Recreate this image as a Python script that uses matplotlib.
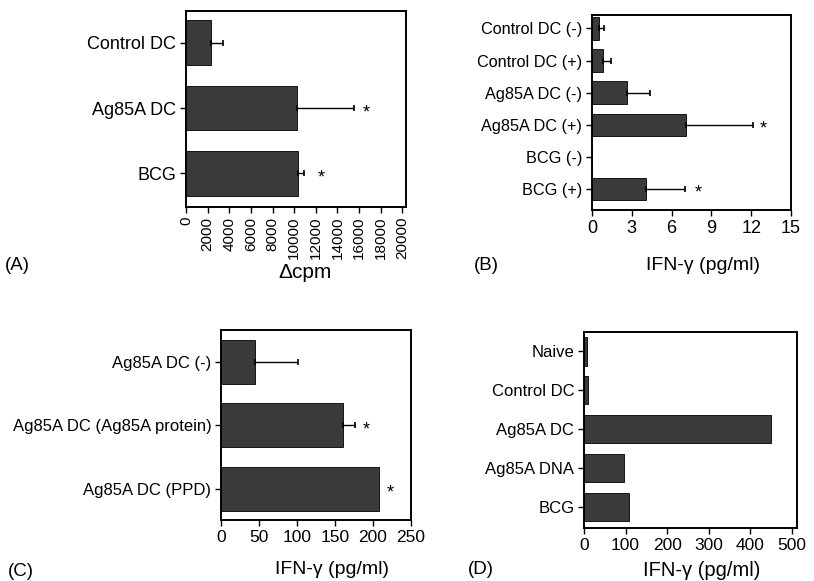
#!/usr/bin/env python3
"""
Four-panel horizontal bar figure (A-D): proliferation and IFN-gamma responses
"""

import numpy as np
import matplotlib.pyplot as plt

plt.rcParams['font.family'] = ['Liberation Sans', 'DejaVu Sans']

W, H = 814, 581

# Panel A: proliferation (delta cpm)
a_labels = ['Control DC', 'Ag85A DC', 'BCG']
a_values = [2300, 10300, 10400]
a_errors = [1100, 5200, 500]
a_stars = [None, 16700, 12500]
a_ticks = [0, 2000, 4000, 6000, 8000, 10000, 12000, 14000, 16000, 18000, 20000]

# Panel B: IFN-gamma, with / without restimulation
b_labels = ['Control DC (-)', 'Control DC (+)', 'Ag85A DC (-)',
            'Ag85A DC (+)', 'BCG (-)', 'BCG (+)']
b_values = [0.55, 0.8, 2.65, 7.05, 0.0, 4.1]
b_errors = [0.35, 0.6, 1.75, 5.1, 0.0, 2.9]
b_stars = [None, None, None, 12.9, None, 8.0]
b_ticks = [0, 3, 6, 9, 12, 15]

# Panel C: IFN-gamma, Ag85A DC restimulated with different antigens
c_labels = ['Ag85A DC (-)', 'Ag85A DC (Ag85A protein)', 'Ag85A DC (PPD)']
c_values = [45, 160, 208]
c_errors = [56, 16, 0]
c_stars = [None, 191, 223]
c_ticks = [0, 50, 100, 150, 200, 250]

# Panel D: IFN-gamma by immunisation
d_labels = ['Naive', 'Control DC', 'Ag85A DC', 'Ag85A DNA', 'BCG']
d_values = [7, 9, 450, 95, 107]
d_ticks = [0, 100, 200, 300, 400, 500]

BAR_COLOR = '#3a3a3a'


def add_axes_px(fig, left, top, right, bottom):
    """Place an axes using pixel coordinates measured from the top-left"""
    return fig.add_axes([left / W, 1 - bottom / H, (right - left) / W, (bottom - top) / H])


def draw_panel(ax, labels, values, errors, stars, ticks, xlim, ylim, height,
               label_size, tick_size, rotate=False, star_dy=0.07):
    y = np.arange(len(labels))
    ax.barh(y, values, height=height, color=BAR_COLOR, edgecolor='black', linewidth=0.6)
    if errors is not None:
        err = np.array(errors)
        mask = err > 0
        ax.errorbar(np.array(values)[mask], y[mask],
                    xerr=[np.zeros(mask.sum()), err[mask]],
                    fmt='none', ecolor='black', elinewidth=1.0, capsize=2.5, capthick=1.2)
    if stars is not None:
        for yi, sx in zip(y, stars):
            if sx is not None:
                ax.text(sx, yi + star_dy, '*', ha='center', va='center', fontsize=13)
    ax.set_yticks(y)
    ax.set_yticklabels(labels, fontsize=label_size)
    ax.set_xticks(ticks)
    ax.set_xticklabels([str(t) for t in ticks], fontsize=tick_size,
                       rotation=90 if rotate else 0)
    ax.set_xlim(*xlim)
    ax.set_ylim(*ylim)
    ax.tick_params(direction='out', length=4, width=1.0, pad=3)
    for s in ax.spines.values():
        s.set_linewidth(1.4)


fig = plt.figure(figsize=(W / 100, H / 100), dpi=100)

axA = add_axes_px(fig, 186, 11, 406, 207)
draw_panel(axA, a_labels, a_values, a_errors, a_stars, a_ticks,
           (0, 20340), (2.52, -0.49), 0.69, 13, 11, rotate=True)

axB = add_axes_px(fig, 592, 15, 791, 210)
draw_panel(axB, b_labels, b_values, b_errors, b_stars, b_ticks,
           (0, 15), (5.65, -0.42), 0.7, 11.7, 13, star_dy=0.12)

axC = add_axes_px(fig, 221, 330, 411, 520)
draw_panel(axC, c_labels, c_values, c_errors, c_stars, c_ticks,
           (0, 250), (2.49, -0.5), 0.69, 12, 12.5)

axD = add_axes_px(fig, 584, 332, 797, 528)
draw_panel(axD, d_labels, d_values, None, None, d_ticks,
           (0, 512), (4.54, -0.49), 0.74, 12, 12.5)

# axis titles and panel letters placed like the original layout
fig.text(305 / W, 1 - 272 / H, '\u0394cpm', ha='center', va='center', fontsize=15)
fig.text(703 / W, 1 - 265 / H, 'IFN-\u03b3 (pg/ml)', ha='center', va='center', fontsize=14)
fig.text(332 / W, 1 - 570 / H, 'IFN-\u03b3 (pg/ml)', ha='center', va='center', fontsize=14)
fig.text(702 / W, 1 - 570 / H, 'IFN-\u03b3 (pg/ml)', ha='center', va='center', fontsize=14.5)

fig.text(5 / W, 1 - 266 / H, '(A)', ha='left', va='center', fontsize=13.5)
fig.text(474 / W, 1 - 265 / H, '(B)', ha='left', va='center', fontsize=13.5)
fig.text(8 / W, 1 - 571 / H, '(C)', ha='left', va='center', fontsize=13.5)
fig.text(468 / W, 1 - 570 / H, '(D)', ha='left', va='center', fontsize=13.5)

fig.savefig('out.png', dpi=100)
